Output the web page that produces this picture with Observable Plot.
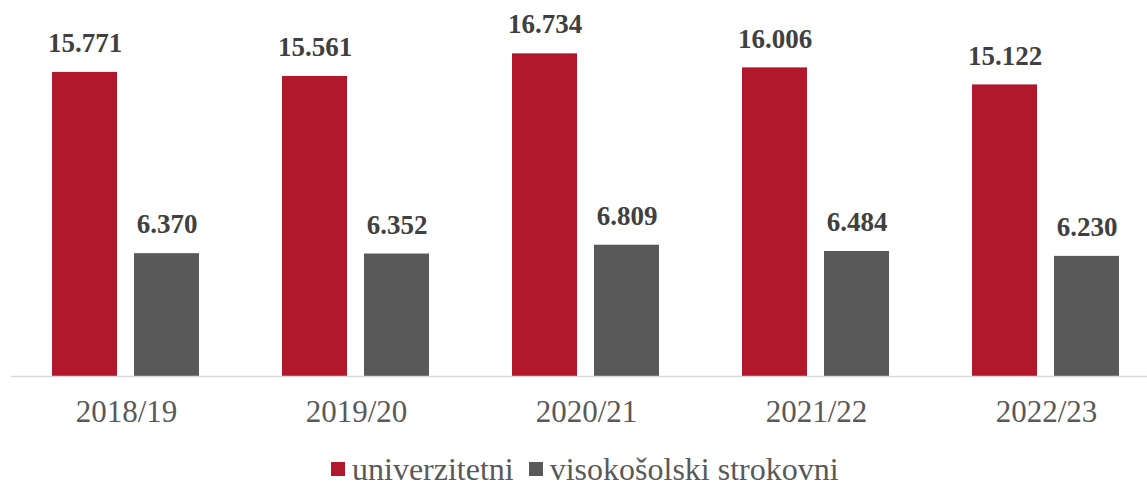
<!DOCTYPE html>
<html>
<head>
<meta charset="utf-8">
<script src="https://cdn.jsdelivr.net/npm/d3@7"></script>
<script src="https://cdn.jsdelivr.net/npm/@observablehq/plot@0.6"></script>
<style>
  html, body { margin: 0; padding: 0; background: #fff; }
  #wrap { position: relative; width: 1147px; height: 485px; overflow: hidden; font-family: 'Liberation Serif', 'Times New Roman', serif; }
  #legend { position: absolute; left: 331px; top: 451px; height: 36px; display: flex; align-items: center; font-size: 32px; color: #595959; font-family: 'Liberation Serif', 'Times New Roman', serif; white-space: nowrap; }
  .sw { width: 14px; height: 14px; display: inline-block; margin-right: 7px; }
  .item { display: flex; align-items: center; }
</style>
</head>
<body>
<div id="wrap"><div id="chart"></div><div id="legend"></div></div>
<script>
const years = ["2018/19", "2019/20", "2020/21", "2021/22", "2022/23"];
const series = ["univerzitetni", "visokošolski strokovni"];
const univerzitetni = [15.771, 15.561, 16.734, 16.006, 15.122];
const visokosolski = [6.370, 6.352, 6.809, 6.484, 6.230];
const colors = ["#B2182B", "#595959"];

const data = [];
years.forEach((y, i) => {
  data.push({year: y, series: series[0], value: univerzitetni[i]});
  data.push({year: y, series: series[1], value: visokosolski[i]});
});
const fmt = v => v.toFixed(3);

const chart = Plot.plot({
  width: 1147,
  height: 430,
  marginLeft: 11,
  marginRight: 0,
  marginTop: 0,
  marginBottom: 54,
  style: {fontFamily: "'Liberation Serif', 'Times New Roman', serif", background: "#fff"},
  fx: {domain: years, range: [11, 1161], padding: 0, label: null},
  x: {domain: series, paddingInner: 0.206, paddingOuter: 0.497, axis: null},
  y: {domain: [0, 19.5], axis: null},
  color: {domain: series, range: colors},
  marks: [
    Plot.barY(data, {fx: "year", x: "series", y: "value", fill: "series"}),
    Plot.ruleY([0], {stroke: "#d9d9d9", strokeWidth: 1.5}),
    Plot.text(data, {fx: "year", x: "series", y: "value", text: d => fmt(d.value), dy: -29, fontSize: 27, fontWeight: "bold", fill: "#404040"}),
    Plot.axisFx({anchor: "bottom", tickSize: 0, tickPadding: 23, fontSize: 31, fill: "#595959", label: null})
  ]
});
document.getElementById("chart").appendChild(chart);

const legend = document.getElementById("legend");
series.forEach((s, i) => {
  const it = document.createElement("div");
  it.className = "item";
  if (i > 0) it.style.marginLeft = "15px";
  const sw = document.createElement("span");
  sw.className = "sw";
  sw.style.background = colors[i];
  it.appendChild(sw);
  const t = document.createElement("span");
  t.textContent = s;
  it.appendChild(t);
  legend.appendChild(it);
});
</script>
</body>
</html>
